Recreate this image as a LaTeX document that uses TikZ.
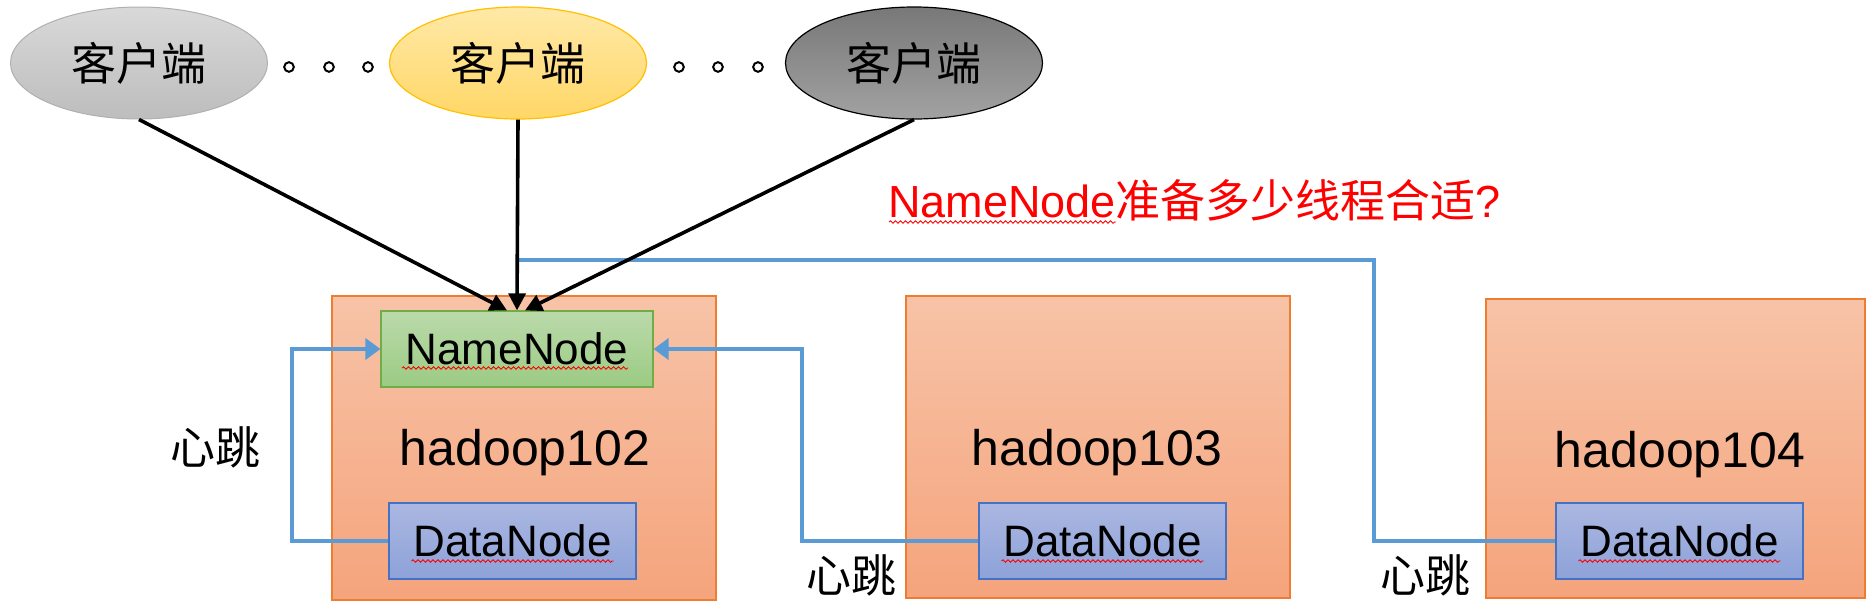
\documentclass[tikz,border=0pt]{standalone}
\usepackage{fontspec}
\setmainfont{Liberation Sans}
\newfontfamily\cjk{Noto Sans CJK SC}
\usetikzlibrary{shapes.geometric,arrows.meta,calc,decorations.pathmorphing}
\definecolor{gLtop}{HTML}{D9D9D9}
\definecolor{gLbot}{HTML}{BDBDBD}
\definecolor{gLline}{HTML}{B0B0B0}
\definecolor{yTop}{HTML}{FFE9A8}
\definecolor{yBot}{HTML}{FFD766}
\definecolor{yLine}{HTML}{FFC000}
\definecolor{gDtop}{HTML}{787878}
\definecolor{gDbot}{HTML}{A2A2A2}
\definecolor{hTop}{HTML}{F7C3A7}
\definecolor{hBot}{HTML}{F5A47C}
\definecolor{hLine}{HTML}{ED7D31}
\definecolor{nTop}{HTML}{BBDAAB}
\definecolor{nBot}{HTML}{9BCB83}
\definecolor{nLine}{HTML}{70AD47}
\definecolor{dTop}{HTML}{ABB7E1}
\definecolor{dBot}{HTML}{8DA2D9}
\definecolor{dLine}{HTML}{4472C4}
\definecolor{hbBlue}{HTML}{5B9BD5}
\tikzset{
  txt/.style={font=\fontsize{44}{52}\selectfont, inner sep=0pt},
  bigtxt/.style={font=\fontsize{50}{58}\selectfont, inner sep=0pt},
  cjktxt/.style={font=\fontsize{45}{52}\selectfont\cjk, inner sep=0pt},
  client/.style={ellipse, minimum width=257pt, minimum height=112pt, inner sep=0pt,
    font=\fontsize{45}{52}\selectfont\cjk},
  host/.style={draw=hLine, line width=1.2pt, top color=hTop, bottom color=hBot,
    inner sep=0pt},
  nnbox/.style={draw=nLine, line width=1.2pt, top color=nTop, bottom color=nBot,
    minimum width=272pt, minimum height=76pt, inner sep=0pt, font=\fontsize{44}{52}\selectfont},
  dnbox/.style={draw=dLine, line width=1.2pt, top color=dTop, bottom color=dBot,
    minimum width=247pt, minimum height=76pt, inner sep=0pt, font=\fontsize{44}{52}\selectfont},
  reqarrow/.style={line width=3.6pt, -{Triangle[length=17pt,width=17pt]}},
  beat/.style={draw=hbBlue, line width=4pt},
  beatarrow/.style={beat, -{Triangle[length=15pt,width=21pt]}},
  dotring/.style={draw=black, line width=2pt},
  spell/.style={draw=red, line width=0.9pt, decorate,
    decoration={snake, segment length=5pt, amplitude=1.2pt}},
}
\begin{document}
\begin{tikzpicture}[x=1pt,y=-1pt]
\useasboundingbox (0,0) rectangle (1872,603);

% clients
\node[client, draw=gLline, line width=1pt, top color=gLtop, bottom color=gLbot] (c1) at (139,63) {客户端};
\node[client, draw=yLine, line width=1.2pt, top color=yTop, bottom color=yBot] (c2) at (518,63) {客户端};
\node[client, draw=black, line width=1.2pt, top color=gDtop, bottom color=gDbot] (c3) at (914,63) {客户端};

% dots
\foreach \x in {289,329,368,679,718,758}
  \draw[dotring] (\x,67) circle (4.8pt);

% question
\node[txt, font=\fontsize{45}{52}\selectfont, anchor=base west, text=red] (q) at (888,217) {NameNode{\cjk 准备多少线程合适}?};
\draw[spell] (889,222) -- (1116,222);

% hosts
\node[host, minimum width=384pt, minimum height=304pt] (h2) at (524,448) {};
\node[host, minimum width=384pt, minimum height=302pt] (h3) at (1098,447) {};
\node[host, minimum width=379pt, minimum height=299pt] (h4) at (1675.5,448.5) {};

\node[bigtxt, anchor=base] (t2) at (525,465) {hadoop102};
\node[bigtxt, anchor=base] (t3) at (1097,465) {hadoop103};
\node[bigtxt, anchor=base] (t4) at (1680,467) {hadoop104};

% inner boxes
\node[nnbox] (nn) at (517,349) {NameNode};
\node[dnbox] (dn2) at (512.5,541) {DataNode};
\node[dnbox] (dn3) at (1102.5,541) {DataNode};
\node[dnbox] (dn4) at (1679.5,541) {DataNode};

\draw[spell] ($(nn.center)+(-115,19)$) -- ($(nn.center)+(111,19)$);
\draw[spell] ($(dn2.center)+(-101,20)$) -- ($(dn2.center)+(101,20)$);
\draw[spell] ($(dn3.center)+(-101,20)$) -- ($(dn3.center)+(101,20)$);
\draw[spell] ($(dn4.center)+(-101,20)$) -- ($(dn4.center)+(101,20)$);

% heartbeat lines
\coordinate (j) at (517,260);
\draw[beatarrow] (dn2.west) -- ++(-96,0) |- (nn.west);
\draw[beatarrow] (dn3.west) -- ++(-176,0) |- (nn.east);
\draw[beat] (dn4.west) -- ++(-181,0) |- (j);

% request arrows
\draw[reqarrow] (c1.south) -- ($(nn.north)+(-10,0)$);
\draw[reqarrow] (c2.south) -- (nn.north);
\draw[reqarrow] (c3.south) -- ($(nn.north)+(8,0)$);

% heartbeat labels
\node[cjktxt] (b1) at (215,447) {心跳};
\node[cjktxt] (b2) at (851,575) {心跳};
\node[cjktxt] (b3) at (1425,575) {心跳};
\end{tikzpicture}
\end{document}
